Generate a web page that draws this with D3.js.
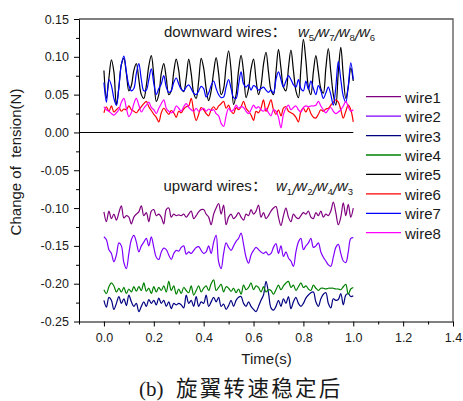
<!DOCTYPE html>
<html lang="en">
<head>
<meta charset="utf-8">
<title>Change of tension</title>
<script src="https://cdn.jsdelivr.net/npm/d3@7"></script>
<style>
  body { margin: 0; background: #fff; }
  svg text { font-family: Arial, "Liberation Sans", sans-serif; fill: #1a1a1a; }
</style>
</head>
<body>
<svg id="chart" width="463" height="401"></svg>
<script>

// sampled every 0.01 s, from 0.0 to 1.0
var sampleStep = 0.01;

var wire1 = [
  -0.105, -0.118, -0.104, -0.114, -0.108, -0.116, -0.106, -0.097, -0.113, -0.110,
  -0.112, -0.121, -0.112, -0.108, -0.105, -0.097, -0.110, -0.106, -0.118, -0.104,
  -0.102, -0.110, -0.108, -0.112, -0.121, -0.102, -0.100, -0.112, -0.108, -0.110,
  -0.109, -0.110, -0.108, -0.112, -0.108, -0.104, -0.114, -0.110, -0.105, -0.102,
  -0.102, -0.108, -0.112, -0.122, -0.108, -0.100, -0.094, -0.108, -0.096, -0.122,
  -0.112, -0.108, -0.114, -0.111, -0.106, -0.112, -0.116, -0.108, -0.110, -0.102,
  -0.108, -0.104, -0.096, -0.112, -0.106, -0.114, -0.110, -0.104, -0.100, -0.098,
  -0.112, -0.123, -0.110, -0.100, -0.112, -0.118, -0.108, -0.112, -0.114, -0.110,
  -0.106, -0.108, -0.104, -0.112, -0.114, -0.106, -0.110, -0.104, -0.112, -0.108,
  -0.110, -0.104, -0.092, -0.106, -0.122, -0.112, -0.093, -0.110, -0.095, -0.112,
  -0.100
];
var wire2 = [
  -0.138, -0.142, -0.155, -0.160, -0.171, -0.162, -0.146, -0.150, -0.172, -0.180,
  -0.160, -0.142, -0.136, -0.145, -0.158, -0.150, -0.145, -0.140, -0.150, -0.138,
  -0.152, -0.165, -0.168, -0.158, -0.153, -0.155, -0.162, -0.168, -0.160, -0.156,
  -0.157, -0.152, -0.150, -0.161, -0.158, -0.160, -0.156, -0.152, -0.151, -0.156,
  -0.160, -0.158, -0.150, -0.160, -0.145, -0.136, -0.171, -0.180, -0.160, -0.146,
  -0.152, -0.156, -0.150, -0.144, -0.140, -0.133, -0.148, -0.165, -0.173, -0.162,
  -0.156, -0.152, -0.155, -0.158, -0.160, -0.158, -0.162, -0.160, -0.152, -0.147,
  -0.160, -0.150, -0.164, -0.158, -0.166, -0.170, -0.177, -0.158, -0.145, -0.140,
  -0.155, -0.150, -0.146, -0.140, -0.152, -0.150, -0.146, -0.158, -0.165, -0.170,
  -0.175, -0.177, -0.165, -0.152, -0.148, -0.160, -0.170, -0.172, -0.158, -0.140,
  -0.139
];
var wire3 = [
  -0.222, -0.231, -0.218, -0.222, -0.234, -0.226, -0.217, -0.226, -0.220, -0.229,
  -0.215, -0.224, -0.230, -0.226, -0.237, -0.230, -0.224, -0.230, -0.221, -0.226,
  -0.222, -0.228, -0.219, -0.226, -0.222, -0.230, -0.224, -0.233, -0.226, -0.228,
  -0.226, -0.228, -0.232, -0.215, -0.226, -0.222, -0.230, -0.217, -0.230, -0.224,
  -0.226, -0.215, -0.230, -0.224, -0.218, -0.224, -0.218, -0.230, -0.227, -0.234,
  -0.229, -0.222, -0.230, -0.222, -0.218, -0.217, -0.226, -0.230, -0.224, -0.230,
  -0.234, -0.237, -0.230, -0.222, -0.215, -0.197, -0.212, -0.232, -0.235, -0.230,
  -0.222, -0.230, -0.220, -0.226, -0.217, -0.233, -0.224, -0.218, -0.226, -0.230,
  -0.226, -0.219, -0.215, -0.212, -0.211, -0.224, -0.230, -0.220, -0.214, -0.212,
  -0.226, -0.232, -0.220, -0.222, -0.221, -0.213, -0.228, -0.215, -0.213, -0.217,
  -0.216
];
var wire4 = [
  -0.208, -0.213, -0.204, -0.199, -0.203, -0.211, -0.206, -0.211, -0.205, -0.213,
  -0.207, -0.211, -0.204, -0.210, -0.204, -0.209, -0.199, -0.210, -0.206, -0.213,
  -0.204, -0.211, -0.205, -0.209, -0.203, -0.211, -0.197, -0.209, -0.203, -0.214,
  -0.207, -0.213, -0.205, -0.209, -0.212, -0.203, -0.215, -0.209, -0.203, -0.211,
  -0.206, -0.203, -0.209, -0.200, -0.195, -0.209, -0.205, -0.201, -0.211, -0.204,
  -0.206, -0.210, -0.206, -0.212, -0.207, -0.214, -0.202, -0.208, -0.205, -0.199,
  -0.208, -0.203, -0.205, -0.211, -0.204, -0.211, -0.208, -0.209, -0.214, -0.208,
  -0.202, -0.208, -0.203, -0.199, -0.197, -0.205, -0.202, -0.209, -0.204, -0.199,
  -0.205, -0.203, -0.207, -0.209, -0.202, -0.206, -0.209, -0.206, -0.206, -0.207,
  -0.206, -0.206, -0.206, -0.207, -0.207, -0.208, -0.204, -0.201, -0.214, -0.207,
  -0.205
];
var wire5 = [
  0.082, 0.045, 0.072, 0.096, 0.080, 0.036, 0.060, 0.090, 0.098, 0.078,
  0.055, 0.062, 0.082, 0.091, 0.070, 0.050, 0.045, 0.062, 0.088, 0.1015,
  0.075, 0.041, 0.050, 0.078, 0.091, 0.072, 0.050, 0.055, 0.080, 0.097,
  0.082, 0.058, 0.054, 0.072, 0.097, 0.078, 0.052, 0.045, 0.068, 0.098,
  0.085, 0.058, 0.042, 0.055, 0.080, 0.099, 0.078, 0.050, 0.058, 0.088,
  0.108, 0.082, 0.037, 0.050, 0.082, 0.102, 0.080, 0.046, 0.058, 0.084,
  0.097, 0.070, 0.050, 0.062, 0.090, 0.106, 0.080, 0.056, 0.050, 0.080,
  0.110, 0.085, 0.060, 0.055, 0.085, 0.109, 0.082, 0.055, 0.046, 0.085,
  0.123, 0.095, 0.060, 0.050, 0.080, 0.1015, 0.080, 0.058, 0.052, 0.085,
  0.111, 0.080, 0.050, 0.036, 0.080, 0.1125, 0.075, 0.045, 0.060, 0.085,
  0.068
];
var wire6 = [
  0.026, 0.034, 0.028, 0.035, 0.027, 0.030, 0.033, 0.028, 0.031, 0.030,
  0.035, 0.030, 0.028, 0.026, 0.030, 0.034, 0.038, 0.041, 0.034, 0.029,
  0.024, 0.020, 0.014, 0.026, 0.032, 0.028, 0.024, 0.029, 0.026, 0.020,
  0.028, 0.026, 0.031, 0.034, 0.035, 0.045, 0.028, 0.016, 0.024, 0.033,
  0.030, 0.025, 0.022, 0.030, 0.034, 0.030, 0.035, 0.038, 0.041, 0.032,
  0.036, 0.028, 0.025, 0.033, 0.030, 0.034, 0.041, 0.032, 0.028, 0.023,
  0.016, 0.028, 0.026, 0.032, 0.043, 0.028, 0.035, 0.043, 0.030, 0.024,
  0.030, 0.022, 0.032, 0.034, 0.028, 0.026, 0.024, 0.020, 0.014, 0.028,
  0.032, 0.027, 0.033, 0.025, 0.020, 0.019, 0.024, 0.030, 0.028, 0.031,
  0.032, 0.036, 0.040, 0.043, 0.040, 0.030, 0.019, 0.028, 0.036, 0.030,
  0.014
];
var wire7 = [
  0.066, 0.040, 0.070, 0.062, 0.045, 0.036, 0.060, 0.090, 0.101, 0.080,
  0.062, 0.055, 0.058, 0.078, 0.091, 0.070, 0.055, 0.056, 0.070, 0.084,
  0.065, 0.050, 0.058, 0.064, 0.075, 0.060, 0.053, 0.055, 0.066, 0.072,
  0.064, 0.057, 0.055, 0.060, 0.063, 0.058, 0.052, 0.050, 0.055, 0.061,
  0.058, 0.047, 0.052, 0.062, 0.068, 0.058, 0.050, 0.046, 0.047, 0.060,
  0.070, 0.058, 0.046, 0.045, 0.063, 0.080, 0.064, 0.060, 0.063, 0.056,
  0.062, 0.060, 0.056, 0.058, 0.060, 0.056, 0.053, 0.056, 0.052, 0.070,
  0.080, 0.070, 0.060, 0.068, 0.075, 0.070, 0.063, 0.060, 0.070, 0.058,
  0.055, 0.068, 0.057, 0.068, 0.058, 0.050, 0.062, 0.055, 0.045, 0.052,
  0.060, 0.050, 0.036, 0.060, 0.094, 0.070, 0.048, 0.040, 0.062, 0.092,
  0.070
];
var wire8 = [
  0.034, 0.030, 0.028, 0.025, 0.023, 0.026, 0.030, 0.040, 0.045, 0.032,
  0.021, 0.026, 0.038, 0.045, 0.036, 0.027, 0.032, 0.036, 0.040, 0.033,
  0.030, 0.025, 0.032, 0.038, 0.043, 0.032, 0.028, 0.026, 0.028, 0.035,
  0.032, 0.028, 0.034, 0.038, 0.033, 0.030, 0.028, 0.032, 0.028, 0.030,
  0.032, 0.028, 0.031, 0.029, 0.030, 0.025, 0.022, 0.012, 0.008, 0.022,
  0.032, 0.028, 0.030, 0.036, 0.032, 0.034, 0.033, 0.028, 0.025, 0.030,
  0.036, 0.032, 0.034, 0.030, 0.028, 0.032, 0.026, 0.022, 0.030, 0.028,
  0.020, 0.006, 0.024, 0.032, 0.036, 0.030, 0.033, 0.035, 0.030, 0.027,
  0.033, 0.035, 0.034, 0.035, 0.035, 0.036, 0.041, 0.035, 0.030, 0.026,
  0.030, 0.033, 0.028, 0.025, 0.027, 0.030, 0.035, 0.041, 0.034, 0.028,
  0.030
];

var names  = ['wire1', 'wire2', 'wire3', 'wire4', 'wire5', 'wire6', 'wire7', 'wire8'];
var colors = ['#800080', '#8000ff', '#000080', '#008000', '#000000', '#ff0000', '#0000ff', '#ff00ff'];
var values = [wire1, wire2, wire3, wire4, wire5, wire6, wire7, wire8];

var zeroLine = [[-0.1, 0], [1.0, 0]];

var xMajor = [0.0, 0.2, 0.4, 0.6, 0.8, 1.0, 1.2, 1.4];
var xMinor = [-0.1, 0.1, 0.3, 0.5, 0.7, 0.9, 1.1, 1.3];
var yMajor = [-0.25, -0.20, -0.15, -0.10, -0.05, 0.00, 0.05, 0.10, 0.15];
var yMinor = [-0.225, -0.175, -0.125, -0.075, -0.025, 0.025, 0.075, 0.125];

var svg = d3.select('#chart');

var x = d3.scaleLinear().domain([-0.1, 1.4]).range([79, 453]);
var y = d3.scaleLinear().domain([-0.25, 0.15]).range([321.5, 19]);

// top and right frame
svg.append('path')
    .attr('d', 'M' + x(-0.1) + ',' + y(0.15) + 'H' + x(1.4) + 'V' + y(-0.25))
    .attr('fill', 'none')
    .attr('stroke', '#555')
    .attr('stroke-width', 1.3);

// zero reference
svg.append('path')
    .datum(zeroLine)
    .attr('d', d3.line().x(d => x(d[0])).y(d => y(d[1])))
    .attr('stroke', '#000')
    .attr('stroke-width', 1.1);

// series
var line = d3.line()
    .x((d, i) => x(i * sampleStep))
    .y(d => y(d))
    .curve(d3.curveCatmullRom.alpha(0.5));

for (var k = 0; k < values.length; k++) {
    svg.append('path')
        .datum(values[k])
        .attr('d', line)
        .attr('fill', 'none')
        .attr('stroke', colors[k])
        .attr('stroke-width', 1.2)
        .attr('stroke-linejoin', 'round');
}

// axes
var gx = svg.append('g').attr('transform', 'translate(0,' + y(-0.25) + ')');
gx.call(d3.axisBottom(x).tickValues(xMajor).tickSize(5).tickSizeOuter(0).tickPadding(7)
        .tickFormat(d => d.toFixed(1)));
gx.append('g').call(d3.axisBottom(x).tickValues(xMinor).tickSize(3).tickFormat(''))
    .select('.domain').remove();

var gy = svg.append('g').attr('transform', 'translate(' + x(-0.1) + ',0)');
gy.call(d3.axisLeft(y).tickValues(yMajor).tickSize(5).tickSizeOuter(0).tickPadding(5)
        .tickFormat(d => d.toFixed(2)));
gy.append('g').call(d3.axisLeft(y).tickValues(yMinor).tickSize(3).tickFormat(''))
    .select('.domain').remove();

svg.selectAll('.tick text')
    .style('font-size', '12.5px')
    .style('font-family', 'Arial, "Liberation Sans", sans-serif')
    .attr('fill', '#1a1a1a');
svg.selectAll('.domain, .tick line').attr('stroke', '#000');

// axis titles
svg.append('text')
    .attr('x', 266.5)
    .attr('y', 364)
    .attr('text-anchor', 'middle')
    .style('font-size', '15px')
    .text('Time(s)');

svg.append('text')
    .attr('transform', 'translate(21,162) rotate(-90)')
    .attr('text-anchor', 'middle')
    .style('font-size', '15px')
    .style('white-space', 'pre')
    .text('Change of  tension(N)');

// legend
for (var k = 0; k < names.length; k++) {
    var ly = 96.7 + k * 19.43;
    svg.append('line')
        .attr('x1', 366).attr('x2', 401)
        .attr('y1', ly).attr('y2', ly)
        .attr('stroke', colors[k])
        .attr('stroke-width', 1.3);
    svg.append('text')
        .attr('x', 405)
        .attr('y', ly + 6)
        .style('font-size', '15px')
        .text(names[k]);
}

// group annotations
function annotate(label, px, py, fx, subs) {
    var t = svg.append('text').attr('x', px).attr('y', py).style('font-size', '15px');
    t.append('tspan').text(label);
    t.append('tspan').style('font-family', '"Noto Sans CJK SC"').text('\uff1a');
    var first = true;
    subs.forEach(function(s, i) {
        var w = t.append('tspan').style('font-style', 'italic').text('w');
        if (first) { w.attr('x', fx); first = false; }
        else w.attr('dy', -4);
        t.append('tspan').attr('dy', 4).style('font-size', '9.5px').text(s);
        if (i < subs.length - 1) {
            t.append('tspan').attr('dy', 0).style('font-style', 'italic').text('/');
        }
    });
}

annotate('downward wires', 164, 37, 298, ['5', '7', '8', '6']);
annotate('upward wires', 163.5, 191, 276, ['1', '2', '4', '3']);

// caption
var cap = svg.append('text').attr('x', 139).attr('y', 396).style('font-size', '21px');
cap.append('tspan').style('font-family', '"Liberation Serif", "Times New Roman", serif').text('(b)');
cap.append('tspan')
    .attr('x', 176)
    .style('font-family', '"Noto Sans CJK SC", sans-serif')
    .style('font-size', '21.5px')
    .style('letter-spacing', '2.3px')
    .text('旋翼转速稳定后');

</script>
</body>
</html>
